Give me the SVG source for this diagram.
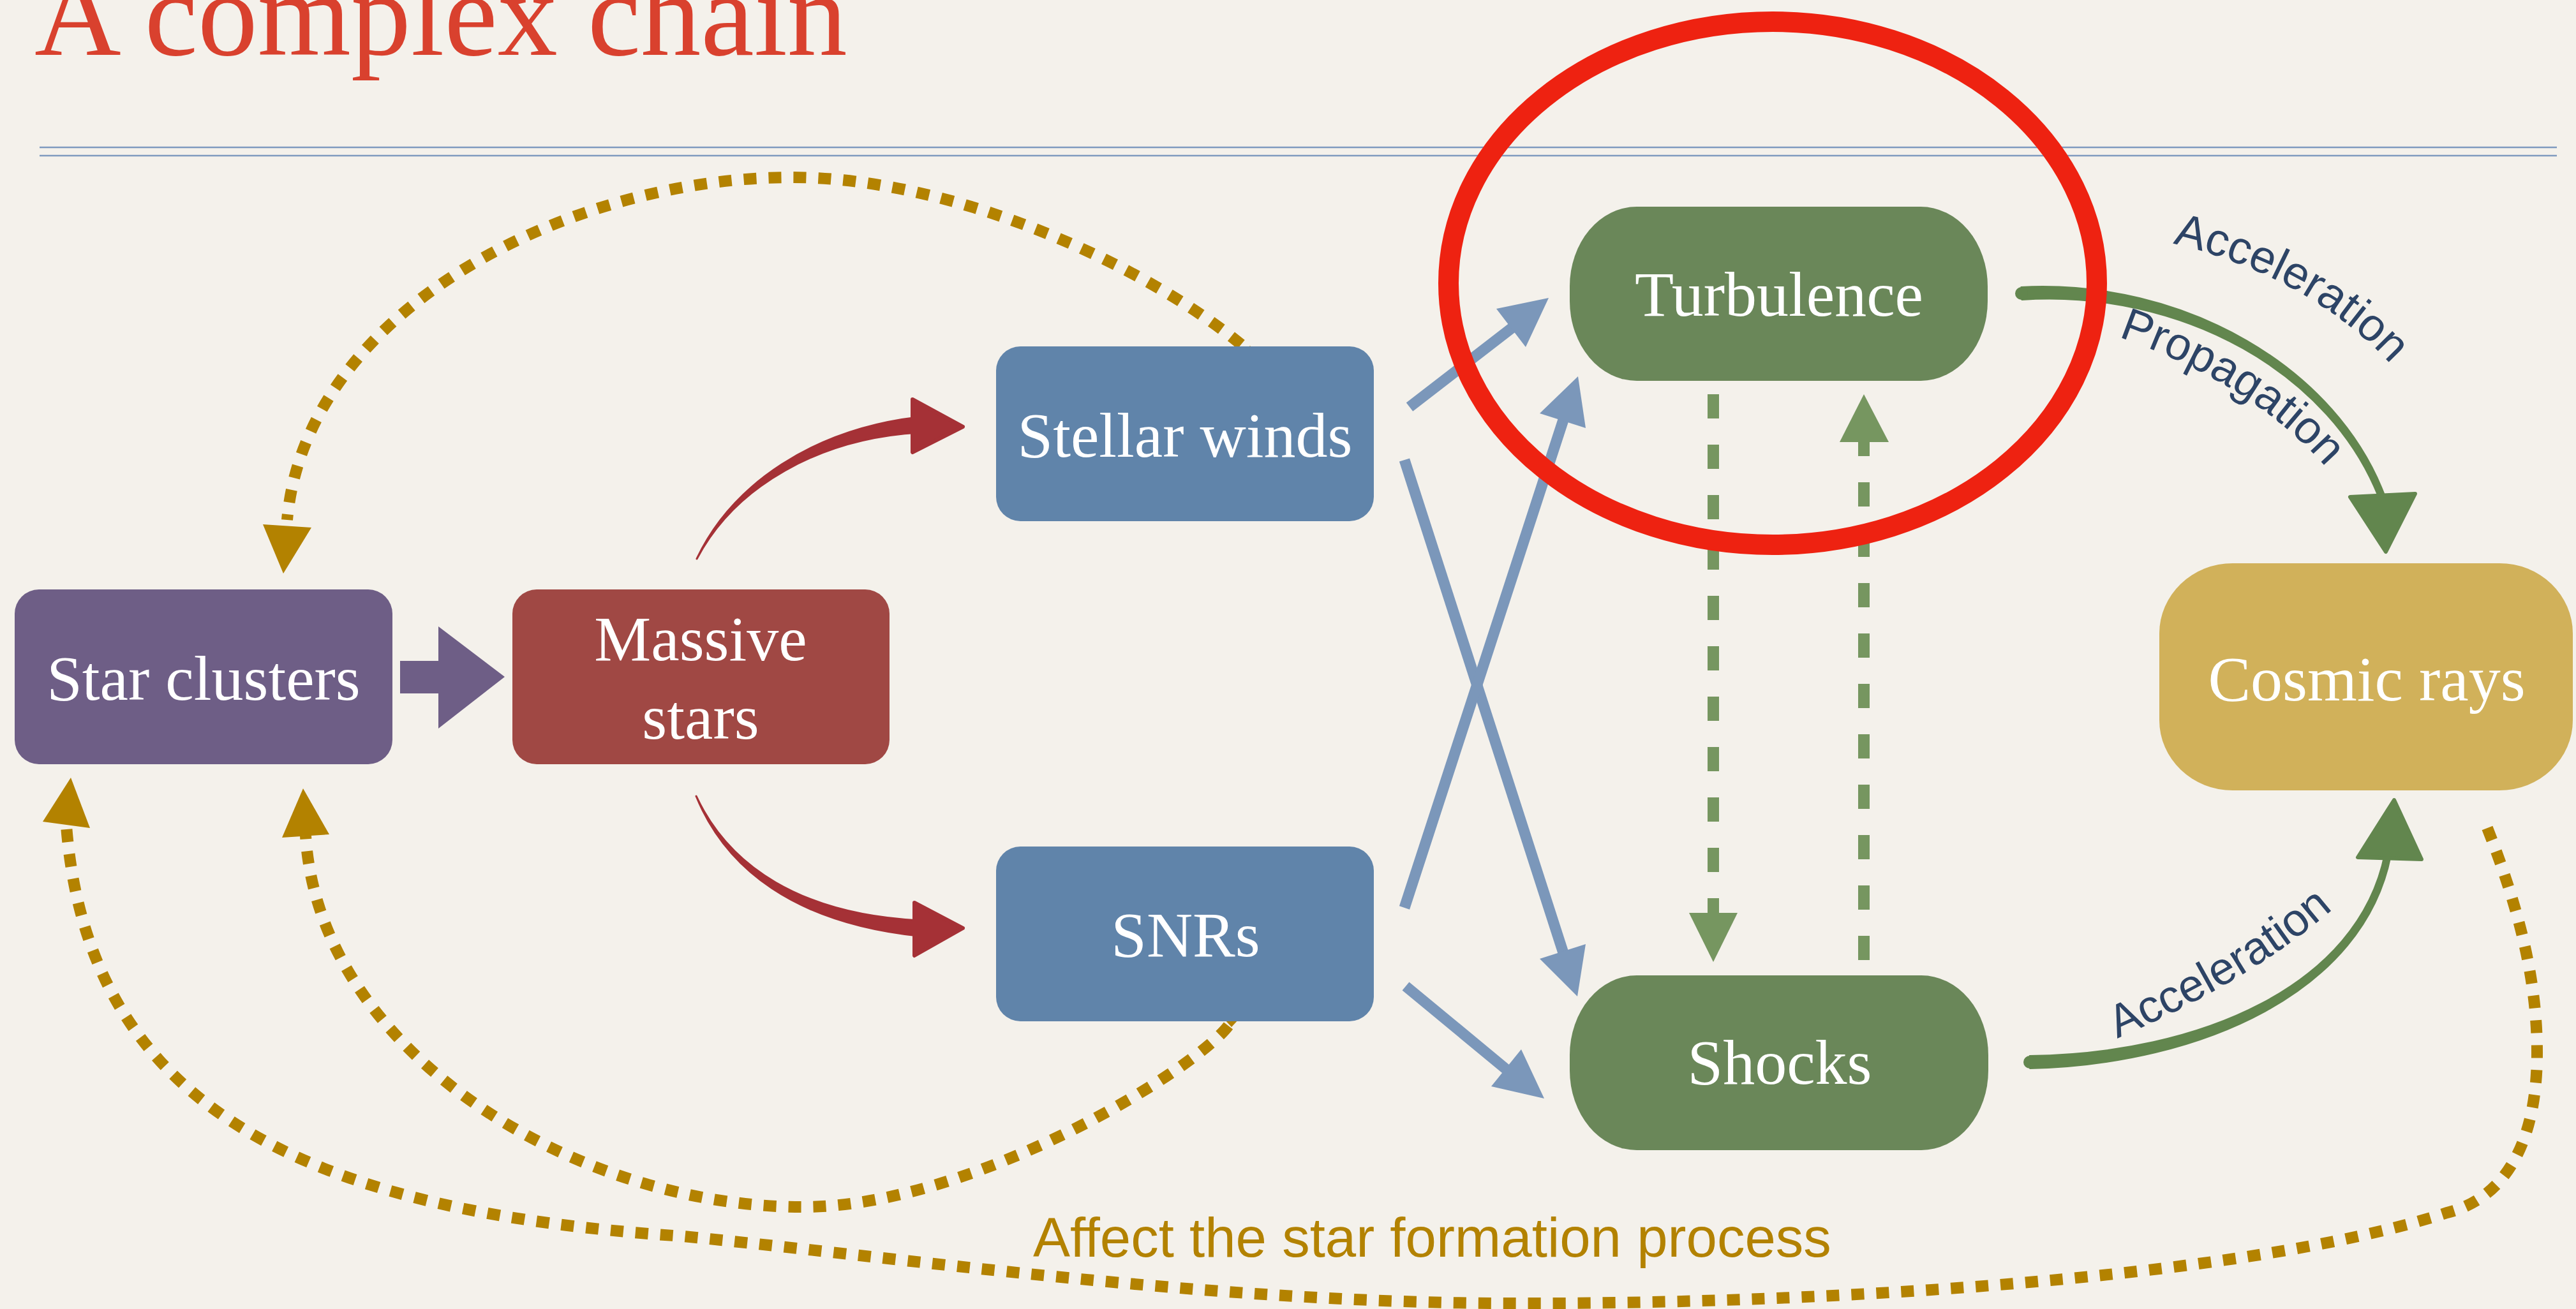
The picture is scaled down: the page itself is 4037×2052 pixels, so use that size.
<svg xmlns="http://www.w3.org/2000/svg" width="4037" height="2052" viewBox="0 0 4037 2052">
<style>
.bg{fill:#f4f1eb}
.ntext{font-family:'Liberation Serif','DejaVu Serif',serif;font-size:100px;fill:#ffffff;text-anchor:middle}
.lbl{font-family:'Liberation Sans',Arial,sans-serif;font-size:72px;fill:#2d4466}
.gold{fill:none;stroke:#b38200;stroke-width:18;stroke-dasharray:20 19}
.goldf{fill:#b38200}
.blue{fill:none;stroke:#7b97ba;stroke-width:17}
.bluef{fill:#7b97ba}
.gdash{fill:none;stroke:#769660;stroke-width:18;stroke-dasharray:38 41}
.gdashf{fill:#769660}
.redb{fill:#a53136;stroke:#a53136;stroke-width:3;stroke-linejoin:round}
.redh{fill:#a53136;stroke:#a53136;stroke-width:6;stroke-linejoin:round}
.grnb{fill:#62864e;stroke:#62864e;stroke-width:2;stroke-linejoin:round}
.grnh{fill:#62864e;stroke:#62864e;stroke-width:6;stroke-linejoin:round}
</style>
<defs>
<path id="pAcc1" d="M 3405 382 C 3530 410 3680 480 3775 605"/>
<path id="pProp" d="M 3320 528 C 3440 570 3580 640 3675 770"/>
<path id="pAcc2" d="M 3318 1628 C 3450 1570 3580 1500 3695 1390"/>
</defs>
<rect class="bg" x="0" y="0" width="4037" height="2052"/>

<g id="header">
<text x="54" y="86" font-family="'Liberation Serif','DejaVu Serif',serif" font-size="188" fill="#d9412e">A complex chain</text>
<line x1="62" y1="231" x2="4007" y2="231" stroke="#7f9bbf" stroke-width="2.5"/>
<line x1="62" y1="244" x2="4007" y2="244" stroke="#7f9bbf" stroke-width="2.5"/>
</g>

<g id="connectors">
<!-- gold dotted feedback curves -->
<path class="gold" d="M 1945 540 C 1800 420 1500 278 1240 278 C 900 278 480 480 450 815"/>
<polygon class="goldf" points="412,822 488,827 444,899"/>
<polygon class="goldf" points="1959,542 1971,557 1959,572 1947,557"/>
<path class="gold" d="M 1925 1608 C 1870 1680 1520 1892 1259 1892 C 900 1892 500 1650 479 1310"/>
<polygon class="goldf" points="475,1236 442,1313 516,1308"/>
<polygon class="goldf" points="1930,1584 1942,1597 1930,1610 1918,1597"/>
<path class="gold" d="M 3898 1298 C 3950 1430 3976 1540 3976 1650 C 3976 1800 3920 1880 3835 1901 C 3500 2010 2800 2045 2368 2043 C 1900 2043 1400 1970 1071 1938 C 500 1900 140 1750 104 1295"/>
<polygon class="goldf" points="111,1219 67,1288 141,1298"/>

<!-- purple block arrow -->
<polygon fill="#6e5e86" points="627,1036 687,1036 687,982 791,1061 687,1142 687,1087 627,1087"/>

<!-- red brush arrows -->
<path class="redb" d="M 1092 876 C 1152 762 1284 687 1441 678 L 1439 654 C 1276 673 1148 758 1092 876 Z"/>
<polygon class="redh" points="1430,626 1509,669 1430,709"/>
<path class="redb" d="M 1091 1248 C 1137.7 1361.9 1245.3 1446.5 1439 1467 L 1441 1443 C 1254.7 1433.5 1142.3 1358.1 1091 1248 Z"/>
<polygon class="redh" points="1433,1415 1509,1455 1433,1498"/>

<!-- blue arrows -->
<line class="blue" x1="2209" y1="638" x2="2372" y2="512"/>
<polygon class="bluef" points="2427,467 2345,484 2391,544"/>
<line class="blue" x1="2201" y1="721" x2="2452" y2="1500"/>
<polygon class="bluef" points="2472,1562 2413,1503 2485,1480"/>
<line class="blue" x1="2201" y1="1423" x2="2452" y2="652"/>
<polygon class="bluef" points="2473,590 2413,648 2485,671"/>
<line class="blue" x1="2203" y1="1546" x2="2365" y2="1680"/>
<polygon class="bluef" points="2420,1722 2337,1703 2384,1645"/>

<!-- green dashed arrows -->
<line class="gdash" x1="2685" y1="618" x2="2685" y2="1432"/>
<polygon class="gdashf" points="2647,1431 2723,1431 2685,1508"/>
<line class="gdash" x1="2921" y1="1505" x2="2921" y2="692"/>
<polygon class="gdashf" points="2921,618 2883,693 2960,693"/>

<!-- green brush arrows to cosmic rays -->
<path class="grnb" d="M 3168.6 470 C 3418 453.3 3655.2 584.4 3730.3 786.7 L 3739.7 783.3 C 3664.8 575.6 3422 436.7 3167.4 450 Z"/>
<circle cx="3168" cy="460" r="10" fill="#62864e"/>
<polygon class="grnh" points="3683,779 3785,774 3739,865"/>
<path class="grnb" d="M 3181.2 1675 C 3451.8 1668.3 3704.8 1554.4 3746.9 1341 L 3737.1 1339 C 3695.2 1545.6 3448.2 1651.7 3180.8 1655 Z"/>
<circle cx="3181" cy="1665" r="10" fill="#62864e"/>
<polygon class="grnh" points="3695,1344 3795,1347 3752,1254"/>

<text class="lbl"><textPath href="#pAcc1">Acceleration</textPath></text>
<text class="lbl"><textPath href="#pProp">Propagation</textPath></text>
<text class="lbl"><textPath href="#pAcc2">Acceleration</textPath></text>

<text x="1619" y="1970" font-family="'Liberation Sans',Arial,sans-serif" font-size="87" fill="#b38200">Affect the star formation process</text>
</g>

<g id="node-star-clusters">
<rect x="23" y="924" width="592" height="274" rx="38" fill="#6e5e86"/>
<text class="ntext" x="319" y="1097">Star clusters</text>
</g>
<g id="node-massive-stars">
<rect x="803" y="924" width="591" height="274" rx="38" fill="#a04844"/>
<text class="ntext" x="1098" y="1035">Massive</text>
<text class="ntext" x="1098" y="1158">stars</text>
</g>
<g id="node-stellar-winds">
<rect x="1561" y="543" width="592" height="274" rx="38" fill="#6084aa"/>
<text class="ntext" x="1857" y="716">Stellar winds</text>
</g>
<g id="node-snrs">
<rect x="1561" y="1327" width="592" height="274" rx="38" fill="#6084aa"/>
<text class="ntext" x="1858" y="1499">SNRs</text>
</g>
<g id="node-turbulence">
<rect x="2460" y="324" width="655" height="273" rx="105" ry="125" fill="#6a8759"/>
<text class="ntext" x="2788" y="495">Turbulence</text>
</g>
<g id="node-shocks">
<rect x="2460" y="1529" width="656" height="274" rx="105" ry="125" fill="#6a8759"/>
<text class="ntext" x="2789" y="1699">Shocks</text>
</g>
<g id="node-cosmic-rays">
<rect x="3384" y="883" width="648" height="356" rx="115" ry="110" fill="#d1b15a"/>
<text class="ntext" x="3709" y="1098">Cosmic rays</text>
</g>

<g id="highlight">
<ellipse cx="2778" cy="444" rx="508" ry="410" fill="none" stroke="#ee2211" stroke-width="32"/>
</g>
</svg>
